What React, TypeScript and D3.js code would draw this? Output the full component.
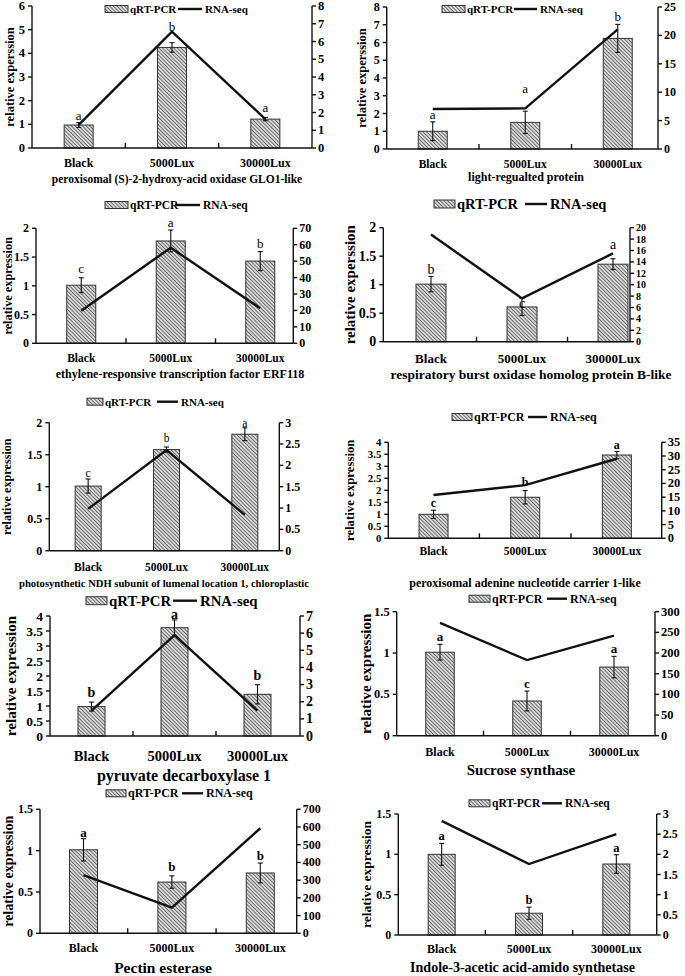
import React from "react";
import * as d3 from "d3";

const categories = ["Black", "5000Lux", "30000Lux"];

// Panel 1: peroxisomal (S)-2-hydroxy-acid oxidase GLO1-like
const gloQrt = [0.97, 4.25, 1.22];
const gloErr = [0.1, 0.2, 0.07];
const gloRna = [1.3, 6.55, 1.63];
const gloSig = ["a", "b", "a"];
const gloLeftTicks = [0, 1, 2, 3, 4, 5, 6];
const gloRightTicks = [0, 1, 2, 3, 4, 5, 6, 7, 8];

// Panel 2: light-regualted protein
const lrpQrt = [1.0, 1.5, 6.23];
const lrpErr = [0.53, 0.63, 0.79];
const lrpRna = [7.04, 7.16, 21.07];
const lrpSig = ["a", "a", "b"];
const lrpLeftTicks = [0, 1, 2, 3, 4, 5, 6, 7, 8];
const lrpRightTicks = [0, 5, 10, 15, 20, 25];

// Panel 3: ethylene-responsive transcription factor ERF118
const erfQrt = [1.01, 1.78, 1.43];
const erfErr = [0.13, 0.19, 0.165];
const erfRna = [19.8, 58.2, 21.3];
const erfSig = ["c", "a", "b"];
const erfLeftTicks = [0, 0.5, 1, 1.5, 2];
const erfRightTicks = [0, 10, 20, 30, 40, 50, 60, 70];

// Panel 4: respiratory burst oxidase homolog protein B-like
const rboQrt = [1.01, 0.61, 1.36];
const rboErr = [0.135, 0.15, 0.095];
const rboRna = [18.8, 7.6, 15.5];
const rboSig = ["b", "c", "a"];
const rboLeftTicks = [0, 0.5, 1, 1.5, 2];
const rboRightTicks = [0, 2, 4, 6, 8, 10, 12, 14, 16, 18, 20];

// Panel 5: photosynthetic NDH subunit of lumenal location 1
const ndhQrt = [1.01, 1.58, 1.82];
const ndhErr = [0.11, 0.04, 0.1];
const ndhRna = [0.98, 2.36, 0.84];
const ndhSig = ["c", "b", "a"];
const ndhLeftTicks = [0, 0.5, 1, 1.5, 2];
const ndhRightTicks = [0, 0.5, 1, 1.5, 2, 2.5, 3];

// Panel 6: peroxisomal adenine nucleotide carrier 1-like
const pncQrt = [1.0, 1.71, 3.47];
const pncErr = [0.17, 0.28, 0.15];
const pncRna = [15.8, 19.4, 29];
const pncSig = ["c", "b", "a"];
const pncLeftTicks = [0, 0.5, 1, 1.5, 2, 2.5, 3, 3.5, 4];
const pncRightTicks = [0, 5, 10, 15, 20, 25, 30, 35];

// Panel 7: pyruvate decarboxylase 1
const pdcQrt = [0.98, 3.61, 1.39];
const pdcErr = [0.15, 0.26, 0.32];
const pdcRna = [1.48, 5.89, 1.48];
const pdcSig = ["b", "a", "b"];
const pdcLeftTicks = [0, 0.5, 1, 1.5, 2, 2.5, 3, 3.5, 4];
const pdcRightTicks = [0, 1, 2, 3, 4, 5, 6, 7];

// Panel 8: Sucrose synthase
const susQrt = [1.01, 0.42, 0.83];
const susErr = [0.095, 0.12, 0.13];
const susRna = [273, 183, 242];
const susSig = ["a", "c", "a"];
const susLeftTicks = [0, 0.5, 1, 1.5];
const susRightTicks = [0, 50, 100, 150, 200, 250, 300];

// Panel 9: Pectin esterase
const pmeQrt = [1.01, 0.62, 0.73];
const pmeErr = [0.135, 0.075, 0.12];
const pmeRna = [329, 145, 593];
const pmeSig = ["a", "b", "b"];
const pmeLeftTicks = [0, 0.5, 1, 1.5];
const pmeRightTicks = [0, 100, 200, 300, 400, 500, 600, 700];

// Panel 10: Indole-3-acetic acid-amido synthetase
const gh3Qrt = [1.0, 0.27, 0.88];
const gh3Err = [0.135, 0.075, 0.115];
const gh3Rna = [2.83, 1.76, 2.5];
const gh3Sig = ["a", "b", "a"];
const gh3LeftTicks = [0, 0.5, 1, 1.5];
const gh3RightTicks = [0, 0.5, 1, 1.5, 2, 2.5, 3];

const FONT = "'Liberation Serif', 'Times New Roman', serif";

type Panel = {
  qrt: number[]; err: number[]; rna: number[]; sig: string[];
  lt: number[]; rt: number[];
  left: number; right: number; top: number; bottom: number;
  band: [number, number]; barW: number;
  legend: { ly: number; bx: number; bw: number; bh: number; lx: number; lw: number; lf: number };
  tf: number; rtf: number;
  catY: number; catF: number;
  title: string; titleX: number; titleY: number; titleF: number;
  yLabel: string; yLabelX: number; yLabelF: number;
  sigF: number; sigBold: boolean; lift: number[];
  innerTicks: boolean;
};

const panels: Panel[] = [
  {
    qrt: gloQrt, err: gloErr, rna: gloRna, sig: gloSig, lt: gloLeftTicks, rt: gloRightTicks,
    left: 32, right: 312, top: 6, bottom: 148, band: [32, 312], barW: 29,
    legend: { ly: 9, bx: 105, bw: 23, bh: 7, lx: 178, lw: 24, lf: 11 },
    tf: 12.5, rtf: 12.5, catY: 163, catF: 12,
    title: "peroxisomal (S)-2-hydroxy-acid oxidase GLO1-like", titleX: 177, titleY: 179, titleF: 11.5,
    yLabel: "relative experssion", yLabelX: 10, yLabelF: 12.5,
    sigF: 13, sigBold: false, lift: [3, 12, 5], innerTicks: true,
  },
  {
    qrt: lrpQrt, err: lrpErr, rna: lrpRna, sig: lrpSig, lt: lrpLeftTicks, rt: lrpRightTicks,
    left: 386.7, right: 658, top: 7, bottom: 149, band: [386.5, 664], barW: 29,
    legend: { ly: 9, bx: 442, bw: 23, bh: 7, lx: 514, lw: 23, lf: 11 },
    tf: 12, rtf: 12, catY: 164, catF: 11.5,
    title: "light-regualted protein", titleX: 526, titleY: 177, titleF: 12,
    yLabel: "relative experssion", yLabelX: 361.5, yLabelF: 12.5,
    sigF: 13, sigBold: false, lift: [3, 18, 3], innerTicks: true,
  },
  {
    qrt: erfQrt, err: erfErr, rna: erfRna, sig: erfSig, lt: erfLeftTicks, rt: erfRightTicks,
    left: 36, right: 293.3, top: 228.3, bottom: 343.3, band: [36.5, 305], barW: 29,
    legend: { ly: 205, bx: 105, bw: 23, bh: 7, lx: 175, lw: 25, lf: 11.5 },
    tf: 12, rtf: 12, catY: 358, catF: 11.5,
    title: "ethylene-responsive transcription factor ERF118", titleX: 180, titleY: 374, titleF: 12,
    yLabel: "relative expression", yLabelX: 7.5, yLabelF: 12.3,
    sigF: 13, sigBold: false, lift: [5, 3.5, 3.5], innerTicks: true,
  },
  {
    qrt: rboQrt, err: rboErr, rna: rboRna, sig: rboSig, lt: rboLeftTicks, rt: rboRightTicks,
    left: 383.3, right: 630, top: 227.7, bottom: 341.7, band: [385.5, 658.5], barW: 30,
    legend: { ly: 204, bx: 434, bw: 21, bh: 8, lx: 525, lw: 22, lf: 14.5 },
    tf: 14, rtf: 10, catY: 358.5, catF: 13,
    title: "respiratory burst oxidase homolog protein B-like", titleX: 531, titleY: 374.5, titleF: 13.5,
    yLabel: "relative experssion", yLabelX: 350, yLabelF: 15,
    sigF: 14, sigBold: false, lift: [2, -10, 10], innerTicks: true,
  },
  {
    qrt: ndhQrt, err: ndhErr, rna: ndhRna, sig: ndhSig, lt: ndhLeftTicks, rt: ndhRightTicks,
    left: 49.3, right: 279.3, top: 422.7, bottom: 550.7, band: [49, 284], barW: 26,
    legend: { ly: 401.7, bx: 87, bw: 16, bh: 7, lx: 157, lw: 21, lf: 11 },
    tf: 12, rtf: 12, catY: 566.7, catF: 11.5,
    title: "photosynthetic NDH subunit of lumenal location 1, chloroplastic", titleX: 164, titleY: 583.5, titleF: 10.6,
    yLabel: "relative expression", yLabelX: 7, yLabelF: 12.2,
    sigF: 11.5, sigBold: false, lift: [2, 5, 1], innerTicks: false,
  },
  {
    qrt: pncQrt, err: pncErr, rna: pncRna, sig: pncSig, lt: pncLeftTicks, rt: pncRightTicks,
    left: 388.3, right: 661.7, top: 442.3, bottom: 538.3, band: [387.7, 662.7], barW: 29,
    legend: { ly: 417, bx: 452, bw: 20, bh: 7, lx: 528, lw: 19, lf: 12 },
    tf: 10.8, rtf: 12.5, catY: 550.7, catF: 11.5,
    title: "peroxisomal adenine nucleotide carrier 1-like", titleX: 525, titleY: 582.5, titleF: 12,
    yLabel: "relative expression", yLabelX: 350, yLabelF: 12.8,
    sigF: 12, sigBold: true, lift: [3, 5, 2.5], innerTicks: true,
  },
  {
    qrt: pdcQrt, err: pdcErr, rna: pdcRna, sig: pdcSig, lt: pdcLeftTicks, rt: pdcRightTicks,
    left: 50, right: 300, top: 616, bottom: 736, band: [50, 299], barW: 27,
    legend: { ly: 600.7, bx: 86, bw: 21, bh: 8, lx: 173, lw: 24, lf: 14.8 },
    tf: 13.5, rtf: 14, catY: 756, catF: 14.5,
    title: "pyruvate decarboxylase 1", titleX: 184, titleY: 775, titleF: 16,
    yLabel: "relative expression", yLabelX: 10, yLabelF: 15.2,
    sigF: 14, sigBold: true, lift: [5, 1, 5], innerTicks: true,
  },
  {
    qrt: susQrt, err: susErr, rna: susRna, sig: susSig, lt: susLeftTicks, rt: susRightTicks,
    left: 396.7, right: 655, top: 611.7, bottom: 735.7, band: [396.5, 657.5], barW: 28.5,
    legend: { ly: 598.7, bx: 469, bw: 21, bh: 7, lx: 547, lw: 20, lf: 12 },
    tf: 12.5, rtf: 12.5, catY: 751.7, catF: 12,
    title: "Sucrose synthase", titleX: 521, titleY: 769.5, titleF: 15,
    yLabel: "relative expression", yLabelX: 365, yLabelF: 15.2,
    sigF: 13, sigBold: true, lift: [3, 3, 3], innerTicks: true,
  },
  {
    qrt: pmeQrt, err: pmeErr, rna: pmeRna, sig: pmeSig, lt: pmeLeftTicks, rt: pmeRightTicks,
    left: 40, right: 296.7, top: 809.3, bottom: 933.3, band: [39.3, 304.5], barW: 28,
    legend: { ly: 793.3, bx: 106, bw: 20, bh: 7, lx: 182, lw: 21, lf: 12 },
    tf: 12, rtf: 12, catY: 948.3, catF: 12,
    title: "Pectin esterase", titleX: 163, titleY: 967.3, titleF: 15.5,
    yLabel: "relative expression", yLabelX: 8.3, yLabelF: 14,
    sigF: 13, sigBold: true, lift: [2, 5, 3], innerTicks: true,
  },
  {
    qrt: gh3Qrt, err: gh3Err, rna: gh3Rna, sig: gh3Sig, lt: gh3LeftTicks, rt: gh3RightTicks,
    left: 398.3, right: 656.7, top: 814, bottom: 935, band: [398, 660], barW: 27,
    legend: { ly: 803.3, bx: 469, bw: 21, bh: 7, lx: 542, lw: 20, lf: 11.5 },
    tf: 12, rtf: 12, catY: 949, catF: 12,
    title: "Indole-3-acetic acid-amido synthetase", titleX: 522.5, titleY: 967.7, titleF: 14,
    yLabel: "relative expression", yLabelX: 366.7, yLabelF: 13.5,
    sigF: 12.5, sigBold: true, lift: [3, 3, 3], innerTicks: true,
  },
];

function PanelView({ p }: { p: Panel }) {
  const x = d3.scaleBand<string>().domain(categories).range(p.band).padding(0);
  const cx = (c: string) => (x(c) as number) + x.bandwidth() / 2;
  const yL = d3.scaleLinear().domain([0, d3.max(p.lt) as number]).range([p.bottom, p.top]);
  const yR = d3.scaleLinear().domain([0, d3.max(p.rt) as number]).range([p.bottom, p.top]);
  const line = d3
    .line<number>()
    .x((_, i) => cx(categories[i]))
    .y((d) => yR(d));
  const lg = p.legend;
  const boundaries = categories.slice(1).map((c) => x(c) as number);
  const midY = (p.top + p.bottom) / 2;
  const txt = { fontFamily: FONT, fill: "#000" };
  return (
    <g>
      {categories.map((c, i) => (
        <rect
          key={"b" + i}
          x={cx(c) - p.barW / 2}
          y={yL(p.qrt[i])}
          width={p.barW}
          height={p.bottom - yL(p.qrt[i])}
          fill="url(#hatch)"
          stroke="#333"
          strokeWidth={1}
        />
      ))}
      {categories.map((c, i) => {
        const x0 = cx(c);
        const y1 = yL(p.qrt[i] + p.err[i]);
        const y2 = yL(p.qrt[i] - p.err[i]);
        return (
          <g key={"e" + i} stroke="#111" strokeWidth={1.1}>
            <line x1={x0} x2={x0} y1={y1} y2={y2} />
            <line x1={x0 - 2.5} x2={x0 + 2.5} y1={y1} y2={y1} />
            <line x1={x0 - 2.5} x2={x0 + 2.5} y1={y2} y2={y2} />
          </g>
        );
      })}
      <path d={line(p.rna) as string} fill="none" stroke="#111" strokeWidth={2.4} strokeLinejoin="miter" />
      {categories.map((c, i) => (
        <text
          key={"s" + i}
          x={cx(c)}
          y={yL(p.qrt[i] + p.err[i]) - p.lift[i]}
          textAnchor="middle"
          fontSize={p.sigF}
          fontWeight={p.sigBold ? "bold" : "normal"}
          {...txt}
        >
          {p.sig[i]}
        </text>
      ))}
      <g stroke="#111" strokeWidth={1.4}>
        <line x1={p.left} x2={p.left} y1={p.top} y2={p.bottom} />
        <line x1={p.right} x2={p.right} y1={p.top} y2={p.bottom} />
        <line x1={p.left} x2={p.right} y1={p.bottom} y2={p.bottom} />
        {p.lt.map((t, i) => (
          <line key={"lt" + i} x1={p.left - 4} x2={p.left} y1={yL(t)} y2={yL(t)} />
        ))}
        {p.rt.map((t, i) => (
          <line key={"rt" + i} x1={p.right} x2={p.right + 4} y1={yR(t)} y2={yR(t)} />
        ))}
        {p.innerTicks &&
          boundaries.map((b, i) => <line key={"it" + i} x1={b} x2={b} y1={p.bottom} y2={p.bottom - 5} />)}
      </g>
      {p.lt.map((t, i) => (
        <text
          key={"ltl" + i}
          x={p.left - 7}
          y={yL(t)}
          textAnchor="end"
          dominantBaseline="central"
          fontSize={p.tf}
          fontWeight="bold"
          {...txt}
        >
          {String(t)}
        </text>
      ))}
      {p.rt.map((t, i) => (
        <text
          key={"rtl" + i}
          x={p.right + 6}
          y={yR(t)}
          textAnchor="start"
          dominantBaseline="central"
          fontSize={p.rtf}
          fontWeight="bold"
          {...txt}
        >
          {String(t)}
        </text>
      ))}
      {categories.map((c, i) => (
        <text
          key={"c" + i}
          x={cx(c)}
          y={p.catY}
          textAnchor="middle"
          dominantBaseline="central"
          fontSize={p.catF}
          fontWeight="bold"
          {...txt}
        >
          {c}
        </text>
      ))}
      <text
        x={p.titleX}
        y={p.titleY}
        textAnchor="middle"
        dominantBaseline="central"
        fontSize={p.titleF}
        fontWeight="bold"
        {...txt}
      >
        {p.title}
      </text>
      <text
        transform={`translate(${p.yLabelX},${midY}) rotate(-90)`}
        textAnchor="middle"
        dominantBaseline="central"
        fontSize={p.yLabelF}
        fontWeight="bold"
        {...txt}
      >
        {p.yLabel}
      </text>
      <rect
        x={lg.bx}
        y={lg.ly - lg.bh / 2}
        width={lg.bw}
        height={lg.bh}
        fill="url(#hatch)"
        stroke="#333"
        strokeWidth={1}
      />
      <text x={lg.bx + lg.bw + 2} y={lg.ly} dominantBaseline="central" fontSize={lg.lf} fontWeight="bold" {...txt}>
        qRT-PCR
      </text>
      <line x1={lg.lx} x2={lg.lx + lg.lw} y1={lg.ly} y2={lg.ly} stroke="#111" strokeWidth={2.4} />
      <text x={lg.lx + lg.lw + 3} y={lg.ly} dominantBaseline="central" fontSize={lg.lf} fontWeight="bold" {...txt}>
        RNA-seq
      </text>
    </g>
  );
}

export default function App() {
  return (
    <svg
      width={685}
      height={976}
      style={{ position: "absolute", left: 0, top: 0, background: "#fff" }}
      fontFamily={FONT}
    >
      <defs>
        <pattern id="hatch" patternUnits="userSpaceOnUse" width={2.6} height={2.6} patternTransform="rotate(-45)">
          <rect width={2.6} height={2.6} fill="#d9d9d9" />
          <line x1={0} y1={0} x2={0} y2={2.6} stroke="#3a3a3a" strokeWidth={1.3} />
        </pattern>
      </defs>
      <rect width={685} height={976} fill="#fff" />
      {panels.map((p, i) => (
        <PanelView key={i} p={p} />
      ))}
    </svg>
  );
}
